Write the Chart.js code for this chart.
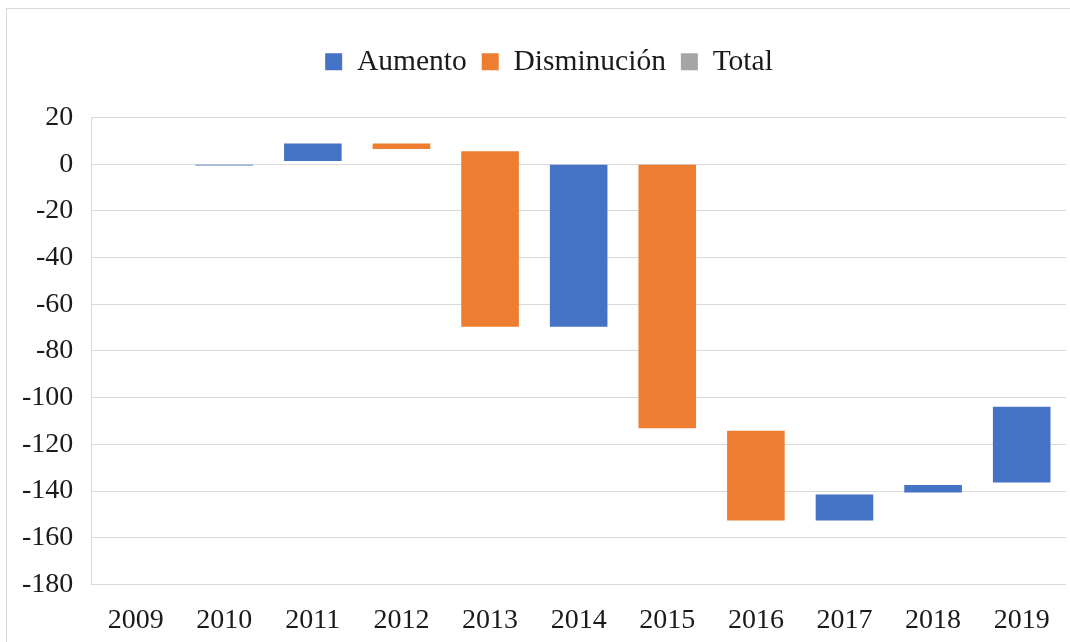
<!DOCTYPE html>
<html>
<head>
<meta charset="utf-8">
<script src="https://cdn.jsdelivr.net/npm/chart.js@4"></script>
<style>
  html, body { margin: 0; padding: 0; background: #fff; overflow: hidden; }
  #frame {
    position: absolute; left: 6px; top: 8px; width: 1080px; height: 660px;
    border: 1px solid #d9d9d9; box-sizing: border-box;
  }
  #wrap { position: absolute; left: 0; top: 0; width: 1070px; height: 642px; }
</style>
</head>
<body>
<div id="frame"></div>
<div id="wrap"><canvas id="waterfall"></canvas></div>
<script>
// years on the x axis
const years = ["2009", "2010", "2011", "2012", "2013", "2014", "2015", "2016", "2017", "2018", "2019"];

// floating bars: bottom and top of each bar
const aumentoLow  = [null, -0.6, 1.4, null, null, -69.6, null, null, -152.6, -140.6, -136.3];
const aumentoHigh = [null, 0, 8.9, null, null, 0, null, null, -141.5, -137.4, -103.9];
const disminucionLow  = [null, null, null, 6.5, -69.6, null, -113.1, -152.6, null, null, null];
const disminucionHigh = [null, null, null, 8.9, 5.5, null, 0, -114.2, null, null, null];
const totalValues = [0, null, null, null, null, null, null, null, null, null, null];

// y axis ticks
const yTicks = [20, 0, -20, -40, -60, -80, -100, -120, -140, -160, -180];

function pairs(lo, hi) {
    return lo.map(function (v, i) {
        return v === null ? null : [v, hi[i]];
    });
}

// push the plot down under the legend, nudge the legend right
const legendGap = {
    id: "legendGap",
    beforeInit(chart) {
        const fit = chart.legend.fit;
        chart.legend.fit = function () {
            fit.call(this);
            this.height += 31;
        };
    },
    afterLayout(chart) {
        chart.legend.left += 14;
        chart.legend.right += 14;
    }
};

document.addEventListener("DOMContentLoaded", function () {
    const ctx = document.getElementById("waterfall");

    new Chart(ctx, {
        type: "bar",
        data: {
            labels: years,
            datasets: [
                {
                    label: "Aumento",
                    data: pairs(aumentoLow, aumentoHigh),
                    backgroundColor: "#4472C4"
                },
                {
                    label: "Disminución",
                    data: pairs(disminucionLow, disminucionHigh),
                    backgroundColor: "#ED7D31"
                },
                {
                    label: "Total",
                    data: totalValues,
                    backgroundColor: "#A5A5A5"
                }
            ]
        },
        plugins: [legendGap],
        options: {
            responsive: true,
            maintainAspectRatio: false,
            animation: false,
            datasets: {
                bar: {
                    grouped: false,
                    barPercentage: 0.65,
                    categoryPercentage: 1.0,
                    borderWidth: 0
                }
            },
            layout: {
                padding: { top: 32, right: 4, bottom: -14, left: 4 }
            },
            plugins: {
                legend: {
                    position: "top",
                    labels: {
                        color: "#1a1a1a",
                        font: { family: "Liberation Serif", size: 29.5 },
                        boxWidth: 17,
                        boxHeight: 17,
                        padding: 15
                    }
                },
                tooltip: { enabled: false }
            },
            scales: {
                x: {
                    grid: { display: false, drawTicks: false },
                    border: { display: false },
                    ticks: {
                        color: "#1a1a1a",
                        font: { family: "Liberation Serif", size: 28 },
                        padding: 19
                    }
                },
                y: {
                    min: -180,
                    max: 20,
                    afterBuildTicks: function (axis) {
                        axis.ticks = yTicks.map(function (v) { return { value: v }; });
                    },
                    grid: { color: "#d9d9d9", lineWidth: 1, drawTicks: false },
                    border: { display: true, color: "#d9d9d9" },
                    ticks: {
                        color: "#1a1a1a",
                        font: { family: "Liberation Serif", size: 28 },
                        padding: 18
                    }
                }
            }
        }
    });
});
</script>
</body>
</html>
